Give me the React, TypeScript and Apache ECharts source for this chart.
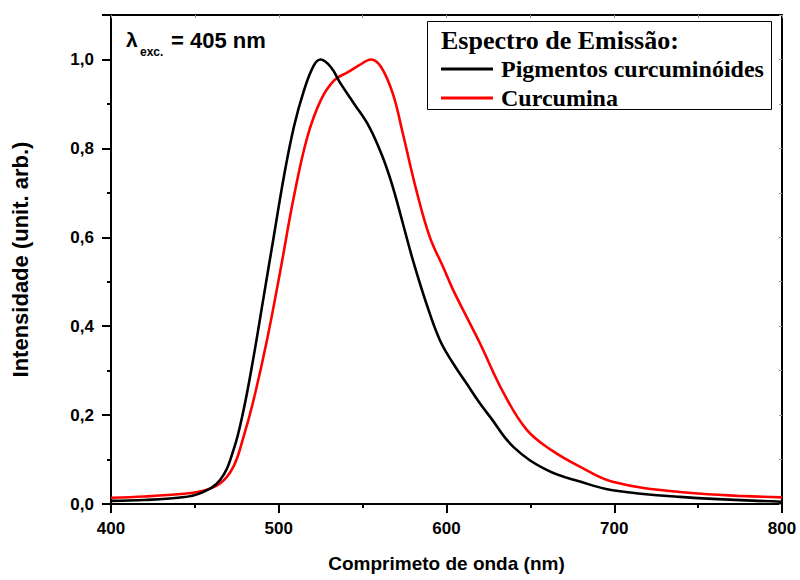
import React, { useEffect, useRef } from "react";
import * as echarts from "echarts";

// Emission spectra, excitation at 405 nm
const wavelengthPig = [400, 420, 440, 453, 465, 473, 479, 485, 491, 497, 503, 509, 515, 521, 525, 531, 537, 545, 554, 562, 568, 574, 580, 588, 596, 604, 612, 620, 626, 640, 660, 680, 699, 739, 800];
const intensityPig = [0.007, 0.009, 0.014, 0.024, 0.054, 0.121, 0.211, 0.331, 0.466, 0.601, 0.735, 0.848, 0.93, 0.987, 1.0, 0.983, 0.945, 0.9, 0.848, 0.78, 0.713, 0.631, 0.548, 0.451, 0.369, 0.316, 0.271, 0.226, 0.196, 0.128, 0.076, 0.05, 0.031, 0.016, 0.005];

const wavelengthCur = [400, 420, 440, 453, 465, 473, 479, 485, 493, 501, 509, 517, 525, 533, 541, 548, 555, 561, 568, 574, 582, 590, 598, 604, 612, 620, 634, 648, 663, 680, 699, 739, 800];
const intensityCur = [0.014, 0.017, 0.022, 0.028, 0.046, 0.084, 0.151, 0.234, 0.369, 0.526, 0.691, 0.825, 0.908, 0.953, 0.971, 0.987, 1.0, 0.983, 0.923, 0.833, 0.706, 0.601, 0.533, 0.481, 0.421, 0.361, 0.25, 0.166, 0.12, 0.083, 0.05, 0.027, 0.015];

const seriesNames = ["Pigmentos curcuminóides", "Curcumina"];
const seriesColors = ["#000000", "#ff0000"];
const legendTitle = "Espectro de Emissão:";

const SANS = "'Liberation Sans', Arial, sans-serif";
const SERIF = "'Liberation Serif', 'Times New Roman', serif";

function pairs(xs: number[], ys: number[]) {
  return xs.map((x, i) => [x, ys[i]]);
}

export default function App() {
  const ref = useRef<HTMLDivElement>(null);

  useEffect(() => {
    if (!ref.current) return;
    const chart = echarts.init(ref.current, null, { renderer: "svg" });
    const axisLine = () => ({ show: true, onZero: false, lineStyle: { color: "#000", width: 2 } });
    const labelStyle = { fontFamily: SANS, fontWeight: "bold" as const, fontSize: 17, color: "#000" };
    const keyText = { fontFamily: SERIF, fontWeight: "bold" as const, fontSize: 24, color: "#000", padding: [0, 0, 0, 8] };

    chart.setOption({
      animation: false,
      backgroundColor: "#fff",
      grid: { left: 111, right: 18, top: 15, bottom: 76 },
      title: [
        {
          // boxed key with its heading
          left: 427,
          top: 20,
          padding: [6, 8, 0, 14],
          borderColor: "#000",
          borderWidth: 1,
          backgroundColor: "#fff",
          text:
            `{h|${legendTitle}}\n` +
            `{k0|}{t0|${seriesNames[0]}}\n` +
            `{k1|}{t1|${seriesNames[1]}}`,
          textStyle: {
            rich: {
              h: { fontFamily: SERIF, fontWeight: "bold", fontSize: 26, color: "#000", lineHeight: 28 },
              k0: { width: 52, height: 3, backgroundColor: seriesColors[0], lineHeight: 30 },
              t0: { ...keyText, lineHeight: 30 },
              k1: { width: 52, height: 3, backgroundColor: seriesColors[1], lineHeight: 28 },
              t1: { ...keyText, lineHeight: 28 },
            },
          },
        },
        {
          left: 126,
          top: 29,
          padding: 0,
          text: "λ",
          textStyle: { fontFamily: SANS, fontWeight: "bold", fontSize: 21, color: "#000" },
        },
        {
          left: 140,
          top: 46,
          padding: 0,
          text: "exc.",
          textStyle: { fontFamily: SANS, fontWeight: "bold", fontSize: 12, color: "#000" },
        },
        {
          left: 171,
          top: 29,
          padding: 0,
          text: "= 405 nm",
          textStyle: { fontFamily: SANS, fontWeight: "bold", fontSize: 22, color: "#000" },
        },
      ],
      xAxis: [
        {
          type: "value",
          min: 400,
          max: 800,
          interval: 100,
          position: "bottom",
          axisLine: axisLine(),
          axisTick: { show: true, length: 9, lineStyle: { color: "#000", width: 2 } },
          minorTick: { show: true, splitNumber: 2, length: 4, lineStyle: { color: "#000", width: 2 } },
          splitLine: { show: false },
          axisLabel: { ...labelStyle, margin: 16, hideOverlap: false },
          name: "Comprimeto de onda (nm)",
          nameLocation: "middle",
          nameGap: 50,
          nameTextStyle: { fontFamily: SANS, fontWeight: "bold", fontSize: 19, color: "#000" },
        },
        {
          type: "value",
          min: 400,
          max: 800,
          interval: 50,
          position: "top",
          axisLine: axisLine(),
          axisTick: { show: true, inside: true, length: 3, lineStyle: { color: "#999", width: 1 } },
          axisLabel: { show: false },
          splitLine: { show: false },
        },
      ],
      yAxis: [
        {
          type: "value",
          min: 0,
          max: 1.1,
          interval: 0.2,
          position: "left",
          axisLine: axisLine(),
          axisTick: { show: true, length: 9, lineStyle: { color: "#000", width: 2 } },
          splitLine: { show: false },
          axisLabel: {
            ...labelStyle,
            margin: 17,
            hideOverlap: false,
            formatter: (v: number) => (v > 1.05 ? "" : v.toFixed(1).replace(".", ",")),
          },
          name: "Intensidade (unit. arb.)",
          nameLocation: "middle",
          nameGap: 80,
          nameTextStyle: { fontFamily: SANS, fontWeight: "bold", fontSize: 22, color: "#000" },
        },
        {
          type: "value",
          min: 0,
          max: 1.1,
          interval: 0.1,
          position: "right",
          axisLine: axisLine(),
          axisTick: { show: true, inside: true, length: 3, lineStyle: { color: "#999", width: 1 } },
          axisLabel: { show: false },
          splitLine: { show: false },
        },
        {
          // minor ticks every 0.1 on the left side
          type: "value",
          min: 0,
          max: 1.1,
          interval: 0.1,
          position: "left",
          axisLine: { show: false, onZero: false },
          axisTick: { show: true, length: 4, lineStyle: { color: "#000", width: 2 } },
          axisLabel: { show: false },
          splitLine: { show: false },
        },
      ],
      series: [
        {
          name: seriesNames[0],
          type: "line",
          data: pairs(wavelengthPig, intensityPig),
          smooth: 0.4,
          showSymbol: false,
          color: seriesColors[0],
          lineStyle: { color: seriesColors[0], width: 2.6 },
          z: 3,
        },
        {
          name: seriesNames[1],
          type: "line",
          data: pairs(wavelengthCur, intensityCur),
          smooth: 0.4,
          showSymbol: false,
          color: seriesColors[1],
          lineStyle: { color: seriesColors[1], width: 2.6 },
          z: 2,
        },
      ],
    });
    return () => chart.dispose();
  }, []);

  return (
    <div
      ref={ref}
      style={{ position: "absolute", left: 0, top: 0, width: 800, height: 580, background: "#fff" }}
    />
  );
}
